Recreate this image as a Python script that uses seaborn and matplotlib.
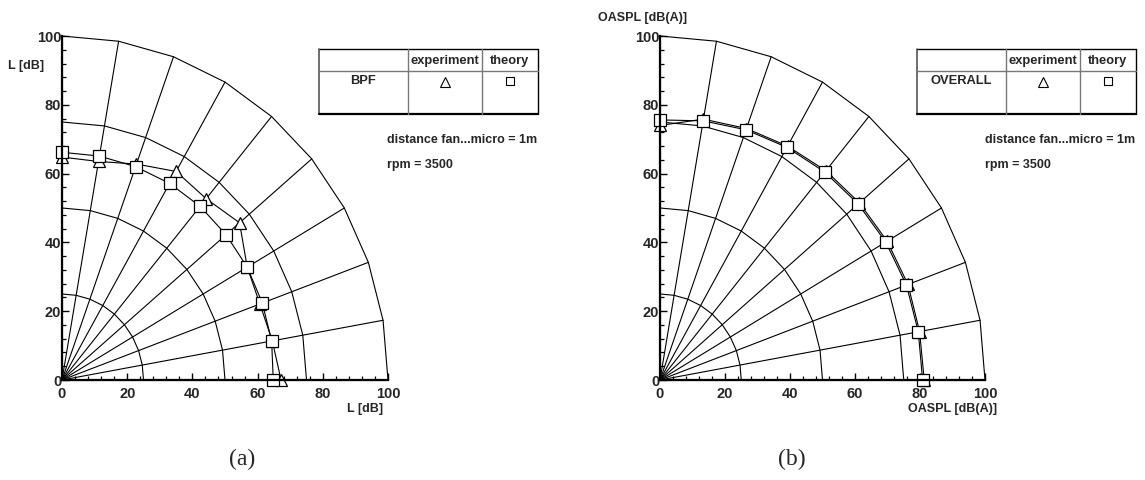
import numpy as np
import pandas as pd
import matplotlib
matplotlib.use("Agg")
import matplotlib.pyplot as plt
import seaborn as sns
from matplotlib.ticker import MultipleLocator
from matplotlib.lines import Line2D

# ---------------- data ----------------
angles_deg = [0, 10, 20, 30, 40, 50, 60, 70, 80, 90]
bpf_experiment = [67.2, 65.5, 64.6, 65.6, 71.1, 68.8, 70.0, 66.8, 64.5, 64.8]
bpf_theory = [64.8, 65.3, 65.4, 65.6, 65.7, 65.9, 66.0, 66.0, 66.1, 66.2]
overall_experiment = [81.3, 81.1, 81.2, 80.7, 80.1, 79.4, 78.5, 77.8, 77.0, 74.0]
overall_theory = [80.8, 80.7, 80.7, 80.2, 79.6, 78.9, 78.1, 77.4, 76.5, 75.6]
ring_radii = [25, 50, 75, 100]
tick_values = [0, 20, 40, 60, 80, 100]

# ---------------- style ----------------
sns.set_style("white")
plt.rcParams["font.family"] = ["Liberation Sans", "DejaVu Sans"]

W, H = 1145, 480
fig = plt.figure(figsize=(W / 100, H / 100), dpi=100)


def fx(px):
    return px / W


def fy(py):
    return 1 - py / H


def to_xy(r_vals, a_vals):
    a = np.deg2rad(np.asarray(a_vals, dtype=float))
    r = np.asarray(r_vals, dtype=float)
    return r * np.cos(a), r * np.sin(a)


def draw_panel(x0_px, width_px, exp, theo, name, ylab, ylab_px, xlab, xlab_right_px):
    ax = fig.add_axes([fx(x0_px), fy(380), width_px / W, 344 / H])
    ax.set_xlim(0, 100)
    ax.set_ylim(0, 100)
    ax.set_facecolor("white")

    # polar grid: radial lines
    rmax = max(ring_radii)
    for a in angles_deg:
        gx, gy = to_xy([0, rmax], [a, a])
        ax.plot(gx, gy, color="black", lw=0.8, zorder=1, clip_on=False)
    # rings (polygonal, vertices at the radial lines)
    for r in ring_radii:
        gx, gy = to_xy([r] * len(angles_deg), angles_deg)
        ax.plot(gx, gy, color="black", lw=0.8, zorder=1, clip_on=False)

    # series
    ex, ey = to_xy(exp, angles_deg)
    tx, ty = to_xy(theo, angles_deg)
    df_e = pd.DataFrame({"x": ex, "y": ey})
    df_t = pd.DataFrame({"x": tx, "y": ty})
    sns.lineplot(data=df_e, x="x", y="y", sort=False, estimator=None, ax=ax,
                 color="black", lw=0.8, marker="^", markersize=9,
                 markerfacecolor="white", markeredgecolor="black",
                 markeredgewidth=0.9, clip_on=False, zorder=3)
    sns.lineplot(data=df_t, x="x", y="y", sort=False, estimator=None, ax=ax,
                 color="black", lw=0.8, marker="s", markersize=8,
                 markerfacecolor="white", markeredgecolor="black",
                 markeredgewidth=0.9, clip_on=False, zorder=4)

    ax.set_xlabel("")
    ax.set_ylabel("")
    for s in ["top", "right"]:
        ax.spines[s].set_visible(False)
    for s in ["left", "bottom"]:
        ax.spines[s].set_linewidth(1.6)
        ax.spines[s].set_color("black")
        ax.spines[s].set_zorder(5)
    ax.set_xticks(tick_values)
    ax.set_yticks(tick_values)
    ax.set_xticklabels([str(v) for v in tick_values], fontweight="bold", fontsize=10.5)
    ax.set_yticklabels([str(v) for v in tick_values], fontweight="bold", fontsize=10.5)
    ax.xaxis.set_minor_locator(MultipleLocator(4))
    ax.yaxis.set_minor_locator(MultipleLocator(4))
    ax.tick_params(which="major", direction="in", length=5, width=1.0, color="black")
    ax.tick_params(which="minor", direction="in", length=3, width=0.9, color="black")
    ax.tick_params(axis="x", which="both", bottom=True, pad=5)
    ax.tick_params(axis="y", which="both", left=True, pad=0.5)

    # axis titles
    fig.text(fx(ylab_px[0]), fy(ylab_px[1]), ylab, fontsize=9, fontweight="bold",
             ha="left", va="center")
    fig.text(fx(xlab_right_px), fy(409), xlab, fontsize=9, fontweight="bold",
             ha="right", va="center")

    # legend table
    off = x0_px - 62
    L, R = 319 + off, 538 + off
    T, M, B = 49, 71, 114
    c1, c2 = 408 + off, 482 + off

    def line(xs, ys, color="black", lw=1.0):
        fig.add_artist(Line2D([fx(v) for v in xs], [fy(v) for v in ys],
                              transform=fig.transFigure, color=color, lw=lw))
    line([L, R], [T, T])
    line([L, L], [T, B], color="#555555", lw=1.2)
    line([R, R], [T, B])
    line([L, R], [B, B], lw=1.6)
    line([L, R], [M, M], color="#777777", lw=1.0)
    line([c1, c1], [T, B], color="#777777", lw=1.0)
    line([c2, c2], [T, B], color="#777777", lw=1.0)
    fig.text(fx((c1 + c2) / 2), fy(61), "experiment", fontsize=9.3, fontweight="bold",
             ha="center", va="center")
    fig.text(fx((c2 + R) / 2), fy(61), "theory", fontsize=9.3, fontweight="bold",
             ha="center", va="center")
    fig.text(fx((L + c1) / 2), fy(81), name, fontsize=9.3, fontweight="bold",
             ha="center", va="center")
    fig.add_artist(Line2D([fx((c1 + c2) / 2)], [fy(82)], transform=fig.transFigure,
                          marker="^", markersize=7, markerfacecolor="white",
                          markeredgecolor="black", markeredgewidth=0.8, ls="none"))
    fig.add_artist(Line2D([fx((c2 + R) / 2)], [fy(81)], transform=fig.transFigure,
                          marker="s", markersize=6, markerfacecolor="white",
                          markeredgecolor="black", markeredgewidth=0.8, ls="none"))
    fig.text(fx(387 + off), fy(140), "distance fan...micro = 1m", fontsize=9.0,
             fontweight="bold", ha="left", va="center")
    fig.text(fx(387 + off), fy(165), "rpm = 3500", fontsize=9.0,
             fontweight="bold", ha="left", va="center")
    return ax


draw_panel(62, 326, bpf_experiment, bpf_theory, "BPF",
           "L [dB]", (8, 66), "L [dB]", 383)
draw_panel(660, 325, overall_experiment, overall_theory, "OVERALL",
           "OASPL [dB(A)]", (598, 18), "OASPL [dB(A)]", 997)

fig.text(fx(242), fy(459), "(a)", fontsize=17, family=["Liberation Serif", "DejaVu Serif"],
         ha="center", va="center")
fig.text(fx(792), fy(459), "(b)", fontsize=17, family=["Liberation Serif", "DejaVu Serif"],
         ha="center", va="center")

fig.savefig("out.png", dpi=100, facecolor="white")
